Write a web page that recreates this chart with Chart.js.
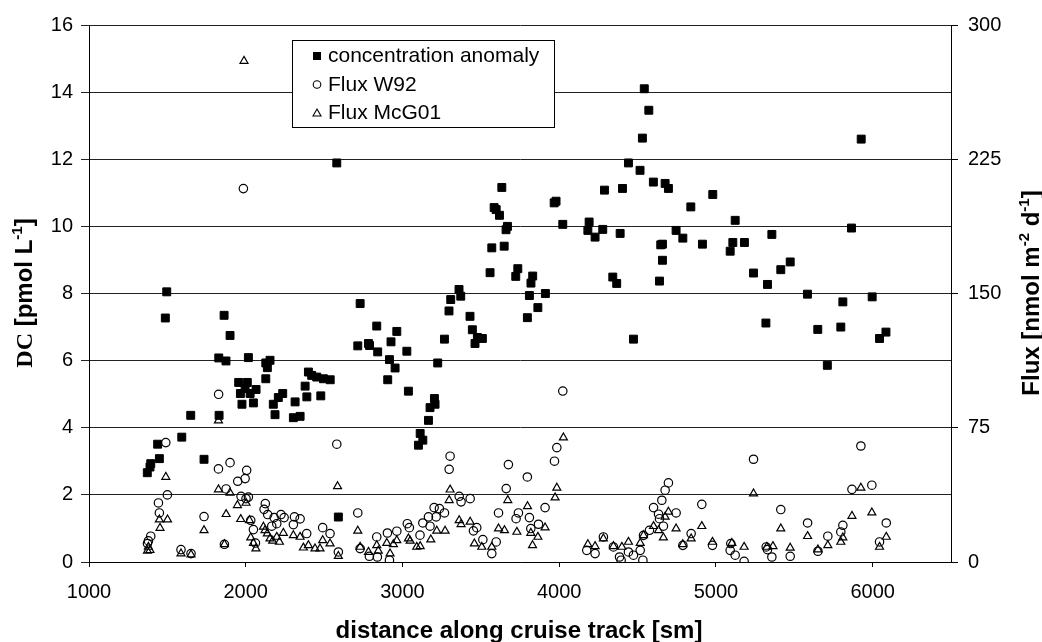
<!DOCTYPE html>
<html>
<head>
<meta charset="utf-8">
<script src="https://cdn.jsdelivr.net/npm/chart.js@4/dist/chart.umd.min.js"></script>
<style>
html,body{margin:0;padding:0;background:#fff}
canvas{display:block}
</style>
</head>
<body>
<canvas id="c" width="1042" height="642"></canvas>
<script>
// concentration anomaly [pmol L-1] vs distance [sm]
const concX = [1372,1389,1394,1438,1449,1487,1496,1592,1649,1734,1828,1830,1862,1874,1900,1955,1966,1976,1996,2010,
  2017,2028,2049,2066,2128,2128,2138,2155,2176,2187,2208,2236,2304,2315,2347,2379,2390,2400,2421,2453,
  2479,2496,2539,2581,2591,2715,2730,2783,2790,2836,2842,2906,2917,2927,2953,2964,3028,3038,3102,3113,
  3130,3166,3176,3204,3208,3225,3268,3297,3308,3361,3372,3431,3446,3463,3478,3510,3559,3570,3585,3598,
  3619,3634,3649,3661,3670,3723,3736,3797,3810,3820,3831,3864,3912,3968,3980,4023,4183,4191,4229,4278,
  4289,4342,4367,4389,4404,4442,4474,4516,4531,4543,4572,4601,4640,4648,4659,4659,4676,4697,4746,4789,
  4840,4914,4980,5091,5108,5123,5182,5240,5319,5329,5357,5414,5474,5584,5650,5711,5797,5810,5865,5927,
  5997,6044,6085]
const concY = [2.66,2.83,2.93,3.51,3.08,7.27,8.05,3.72,4.37,3.06,6.08,4.37,7.35,5.99,6.75,5.35,5.02,4.7,5.17,5.35,
  6.09,5.02,4.74,5.14,5.93,5.46,5.79,6.01,4.7,4.39,4.9,5.02,4.3,4.77,4.34,5.24,4.92,5.66,5.56,5.51,
  4.95,5.46,5.43,11.89,1.34,6.44,7.7,6.51,6.45,7.03,6.26,5.43,6.03,6.56,5.78,6.87,6.28,5.09,3.48,3.83,
  3.63,4.22,4.6,4.87,4.7,5.93,6.64,7.48,7.82,8.12,7.92,7.32,6.92,6.51,6.69,6.66,8.62,9.36,10.56,10.5,
  10.33,11.16,9.41,9.9,10.0,8.51,8.74,7.28,7.94,8.31,8.52,7.58,8.0,10.7,10.75,10.06,9.88,10.13,9.68,9.91,
  11.08,8.49,8.3,9.79,11.13,11.89,6.64,11.67,12.63,14.1,13.46,11.32,8.37,9.45,9.47,8.99,11.28,11.13,9.88,9.65,
  10.58,9.47,10.95,9.26,9.52,10.18,9.52,8.61,7.12,8.27,9.76,8.71,8.94,7.98,6.93,5.86,7.0,7.75,9.95,12.6,
  7.9,6.66,6.85]

// Flux W92 [nmol m-2 d-1]
const w92X = [1373,1379,1394,1443,1449,1490,1500,1587,1651,1734,1826,1827,1864,1875,1900,1949,1970,1985,1996,2002,
  2006,2017,2032,2049,2062,2117,2125,2140,2166,2181,2198,2225,2245,2304,2311,2347,2389,2491,2538,2581,
  2591,2715,2730,2789,2836,2840,2904,2917,2964,3031,3044,3112,3130,3166,3176,3202,3215,3236,3268,3298,
  3304,3362,3374,3432,3453,3474,3513,3570,3598,3613,3662,3676,3725,3740,3797,3810,3819,3868,3910,3970,
  3985,4023,4176,4229,4282,4346,4385,4395,4442,4474,4517,4534,4538,4576,4602,4634,4640,4655,4665,4676,
  4697,4746,4789,4842,4910,4978,5091,5095,5123,5180,5240,5321,5329,5357,5414,5474,5585,5651,5714,5797,
  5810,5868,5925,5995,6044,6087]
const w92Y = [10.3,11.8,14.4,33.0,27.4,66.7,37.5,6.9,4.7,25.4,52.0,93.7,9.9,40.8,55.5,45.1,36.7,208.6,46.6,35.4,
  51.2,36.3,23.3,18.1,10.6,29.4,32.6,26.5,20.0,24.8,21.4,26.5,24.8,20.9,25.2,24.1,15.9,19.2,15.9,65.8,
  5.6,27.4,7.5,3.2,14.0,2.8,16.2,1.0,17.2,21.4,19.2,15.0,21.8,25.2,20.0,30.4,25.2,29.8,27.4,51.8,
  59.1,36.7,33.6,35.4,17.4,19.2,12.5,4.7,11.2,27.4,41.0,54.4,24.2,27.4,47.5,24.8,18.7,21.1,30.4,56.3,
  63.9,95.5,6.5,4.7,14.0,8.4,2.8,1.0,5.6,3.8,6.5,1.0,14.9,17.7,30.4,26.7,24.2,34.5,20.0,40.1,
  44.2,27.4,9.3,15.9,32.2,9.3,6.5,10.3,3.8,0.4,57.4,8.4,6.9,2.8,29.3,3.2,21.8,6.0,14.4,16.8,
  20.5,40.6,64.8,42.9,11.2,21.8]

// Flux McG01 [nmol m-2 d-1]
const mcgX = [1373,1379,1389,1449,1453,1490,1501,1587,1651,1734,1826,1826,1864,1875,1900,1947,1968,1989,2002,2024,
  2032,2049,2065,2113,2123,2138,2155,2172,2198,2215,2240,2304,2347,2368,2400,2442,2474,2491,2538,2586,
  2591,2715,2730,2783,2836,2846,2900,2921,2942,2964,3038,3049,3091,3113,3181,3219,3272,3298,3304,3362,
  3374,3432,3459,3506,3570,3613,3651,3672,3730,3798,3819,3830,3864,3910,3974,3985,4027,4183,4229,4282,
  4346,4400,4442,4517,4538,4602,4634,4665,4676,4697,4746,4789,4842,4910,4978,5102,5180,5240,5325,5364,
  5414,5474,5585,5651,5714,5797,5810,5868,5925,5995,6044,6087]
const mcgY = [6.2,8.4,6.6,23.7,19.0,47.5,23.7,4.7,4.1,17.7,79.0,40.5,9.9,26.7,38.6,31.7,23.9,279.9,33.0,23.3,
  13.6,10.6,7.5,19.6,17.7,15.9,13.1,11.8,14.0,11.2,16.2,14.9,14.0,8.0,9.3,7.5,7.5,12.1,10.3,42.3,
  3.3,17.4,8.4,5.6,9.3,6.2,10.6,4.7,9.9,12.1,13.1,11.8,8.4,8.8,12.5,17.4,17.4,34.5,40.4,23.3,
  21.1,22.4,10.3,8.4,8.4,18.7,17.7,34.5,16.8,31.1,16.2,9.3,14.0,19.2,36.0,41.4,69.5,9.9,8.8,13.1,
  8.8,8.4,11.2,10.6,14.9,20.0,17.7,13.6,25.2,28.0,18.7,9.9,13.1,20.0,11.2,10.6,8.4,38.2,8.4,8.8,
  18.7,7.9,14.4,6.9,9.3,11.2,13.6,25.7,41.4,27.6,8.4,14.0]

// tick labels
const xTickVals = [1000, 2000, 3000, 4000, 5000, 6000]
const sans = "'Liberation Sans', Arial, sans-serif"
const serif = "'Liberation Serif', 'Times New Roman', serif"

function pts(xs, ys) {
  return xs.map((x, i) => ({x: x, y: ys[i]}))
}

// rotated / plain text made of pieces with their own font (for superscripts)
function drawRich(ctx, parts, cx, cy, rot) {
  ctx.save()
  ctx.translate(cx, cy)
  if (rot) ctx.rotate(rot)
  let w = 0
  for (let p of parts) { ctx.font = p.font; w += ctx.measureText(p.t).width }
  let x = -w / 2
  ctx.fillStyle = '#000'
  ctx.textBaseline = 'alphabetic'
  ctx.textAlign = 'left'
  for (let p of parts) {
    ctx.font = p.font
    ctx.fillText(p.t, x, p.dy || 0)
    x += ctx.measureText(p.t).width
  }
  ctx.restore()
}

const decor = {
  id: 'decor',
  afterDraw(chart) {
    const ctx = chart.ctx
    const B = 'bold 24px ' + sans
    const S = 'bold 15px ' + sans
    // left title
    drawRich(ctx, [
      {t: 'DC', font: 'bold 24px ' + serif},
      {t: ' [pmol L', font: B},
      {t: '-1', font: S, dy: -10},
      {t: ']', font: B}
    ], 32, 293, -Math.PI / 2)
    // right title
    drawRich(ctx, [
      {t: 'Flux [nmol m', font: B},
      {t: '-2', font: S, dy: -10},
      {t: ' d', font: B},
      {t: '-1', font: S, dy: -10},
      {t: ']', font: B}
    ], 1039, 293, -Math.PI / 2)
    // x title
    drawRich(ctx, [{t: 'distance along cruise track [sm]', font: B}], 519, 638, 0)

    // legend box
    ctx.save()
    ctx.fillStyle = '#fff'
    ctx.strokeStyle = '#000'
    ctx.lineWidth = 1
    ctx.fillRect(292.5, 40.5, 262, 87)
    ctx.strokeRect(292.5, 40.5, 262, 87)
    ctx.lineWidth = 1.1
    // square
    ctx.fillStyle = '#000'
    ctx.fillRect(313, 52, 8, 8)
    // circle
    ctx.beginPath()
    ctx.arc(317, 84.5, 3.8, 0, Math.PI * 2)
    ctx.stroke()
    // triangle
    ctx.beginPath()
    ctx.moveTo(317, 109)
    ctx.lineTo(321, 116)
    ctx.lineTo(313, 116)
    ctx.closePath()
    ctx.stroke()
    ctx.font = '21px ' + sans
    ctx.textBaseline = 'middle'
    ctx.fillStyle = '#000'
    ctx.fillText('concentration anomaly', 328, 56)
    ctx.fillText('Flux W92', 328, 85)
    ctx.fillText('Flux McG01', 328, 113)
    ctx.restore()
  }
}

Chart.defaults.font.family = sans
Chart.defaults.color = '#000'

new Chart(document.getElementById('c'), {
  type: 'scatter',
  data: {
    datasets: [
      {
        label: 'concentration anomaly',
        data: pts(concX, concY),
        yAxisID: 'y',
        pointStyle: 'rect',
        pointRadius: 5.6,
        borderWidth: 1,
        backgroundColor: '#000',
        borderColor: '#000'
      },
      {
        label: 'Flux W92',
        data: pts(w92X, w92Y),
        yAxisID: 'y2',
        pointStyle: 'circle',
        pointRadius: 4.2,
        borderWidth: 1.2,
        backgroundColor: 'rgba(0,0,0,0)',
        borderColor: '#000'
      },
      {
        label: 'Flux McG01',
        data: pts(mcgX, mcgY),
        yAxisID: 'y2',
        pointStyle: 'triangle',
        pointRadius: 4.6,
        borderWidth: 1.2,
        backgroundColor: 'rgba(0,0,0,0)',
        borderColor: '#000'
      }
    ]
  },
  options: {
    responsive: false,
    animation: false,
    devicePixelRatio: 1,
    layout: {padding: {top: 25, left: 0, right: 0, bottom: 0}},
    plugins: {legend: {display: false}, tooltip: {enabled: false}},
    scales: {
      x: {
        type: 'linear',
        min: 1000,
        max: 6500,
        ticks: {font: {size: 20}, padding: 13, maxRotation: 0, callback: v => String(v)},
        grid: {drawOnChartArea: false, tickLength: 5, color: '#000'},
        border: {color: '#000'},
        afterBuildTicks(s) { s.ticks = xTickVals.map(v => ({value: v})) },
        afterFit(s) { s.height = 80 }
      },
      y: {
        position: 'left',
        min: 0,
        max: 16,
        ticks: {stepSize: 2, font: {size: 20}, padding: 8},
        grid: {color: '#222', tickLength: 8},
        border: {color: '#000'},
        afterFit(s) { s.width = 89 }
      },
      y2: {
        position: 'right',
        min: 0,
        max: 300,
        ticks: {stepSize: 75, font: {size: 20}, padding: 10},
        grid: {drawOnChartArea: false, tickLength: 7, color: '#000'},
        border: {color: '#000'},
        afterFit(s) { s.width = 91 }
      }
    }
  },
  plugins: [decor]
})
</script>
</body>
</html>
